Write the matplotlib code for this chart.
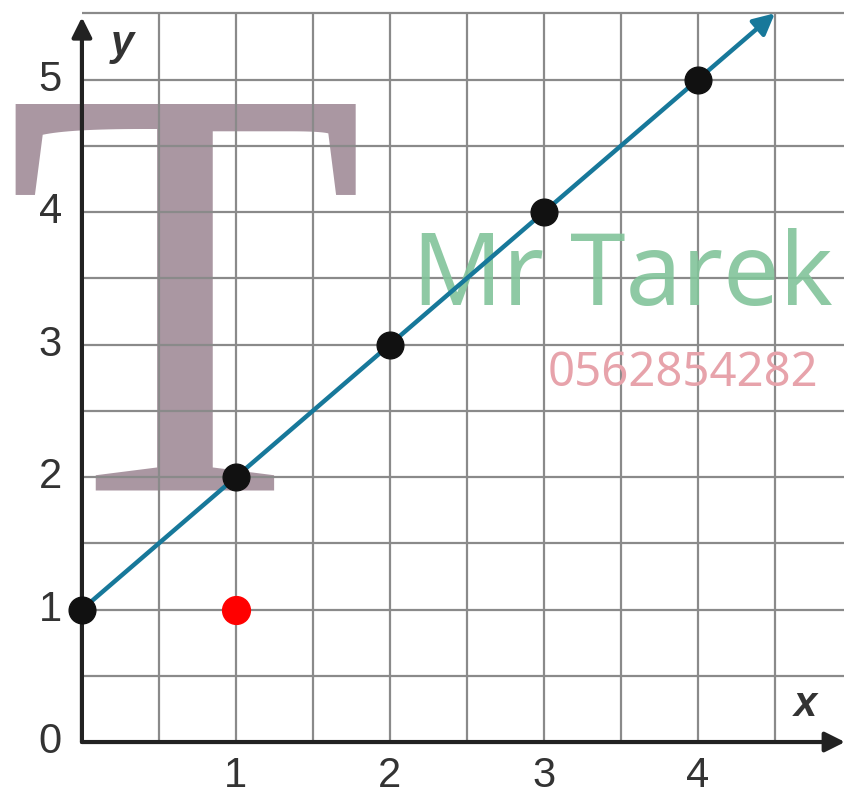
import matplotlib.pyplot as plt
import numpy as np

# points on the line y = x + 1
xs = [0, 1, 2, 3, 4]
ys = [1, 2, 3, 4, 5]

# the extra red point
red_x = [1]
red_y = [1]

# line end (arrow tip)
line_x = [0, 4.5]
line_y = [1, 5.5]

x_ticks = [1, 2, 3, 4]
y_ticks = [0, 1, 2, 3, 4, 5]

fig = plt.figure(figsize=(8.45, 7.99), dpi=100)
ax = fig.add_axes([0, 0, 1, 1])
ax.set_xlim(-0.532, 4.955)
ax.set_ylim(-0.43, 5.6)
ax.axis('off')

# watermark behind everything
ax.text(0.67, 2.97, 'T', family='Liberation Serif', fontsize=425,
        color='#9b8592', alpha=0.85, ha='center', va='center', zorder=0)
ax.text(3.51, 3.30, 'Mr Tarek', family='Noto Sans', fontsize=72,
        color='#82c49a', alpha=0.9, ha='center', va='baseline', zorder=4)
ax.text(3.9, 2.69, '0562854282', family='Noto Sans', fontsize=34,
        color='#e7a3ab', ha='center', va='baseline', zorder=4)

# grid at every half unit
gx = np.arange(0.5, 5.0, 0.5)
gy = np.arange(0.5, 5.51, 0.5)
ax.vlines(gx, 0, 5.5, color='#8a8a8a', lw=1.6, zorder=1)
ax.hlines(gy, 0, 4.955, color='#8a8a8a', lw=1.6, zorder=1)

# axes with arrows
ax.annotate('', xy=(0, 5.47), xytext=(0, 0),
            arrowprops=dict(arrowstyle='-|>', color='#222222', lw=3,
                            mutation_scale=30, shrinkA=0, shrinkB=0), zorder=3)
ax.annotate('', xy=(4.955, 0), xytext=(0, 0),
            arrowprops=dict(arrowstyle='-|>', color='#222222', lw=3,
                            mutation_scale=30, shrinkA=0, shrinkB=0), zorder=3)

# the line with arrow
ax.annotate('', xy=(line_x[1], line_y[1]), xytext=(line_x[0], line_y[0]),
            arrowprops=dict(arrowstyle='-|>', color='#17789a', lw=3.2,
                            mutation_scale=32, shrinkA=0, shrinkB=0), zorder=5)

ax.scatter(xs, ys, s=370, color='#111111', zorder=6)
ax.scatter(red_x, red_y, s=400, color='#ff0000', zorder=6)

# tick labels
for t in x_ticks:
    ax.text(t, -0.26, str(t), fontsize=30, family='Liberation Sans',
            color='#333333', ha='center', va='center')
for t in y_ticks:
    ax.text(-0.13, t, str(t), fontsize=30, family='Liberation Sans',
            color='#333333', ha='right', va='center')

ax.text(0.26, 5.27, 'y', fontsize=30, family='Liberation Sans', style='italic',
        weight='bold', color='#333333', ha='center', va='center')
ax.text(4.7, 0.28, 'x', fontsize=30, family='Liberation Sans', style='italic',
        weight='bold', color='#333333', ha='center', va='center')

fig.savefig('out.png', dpi=100)
